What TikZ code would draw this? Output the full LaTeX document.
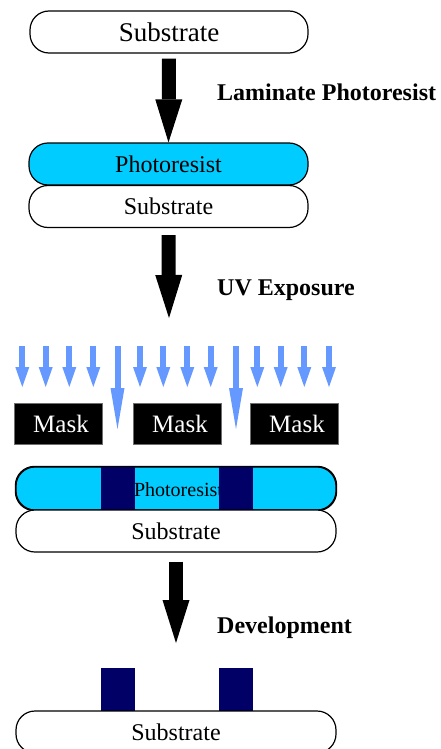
\documentclass[tikz,border=0pt]{standalone}
\usepackage{fontspec}
\setmainfont{Liberation Serif}
\usetikzlibrary{arrows.meta}
\definecolor{resist}{RGB}{0,204,255}
\definecolor{exposed}{RGB}{0,0,102}
\definecolor{uvblue}{RGB}{102,153,255}
\definecolor{maskedge}{RGB}{110,110,110}
\begin{document}
\begin{tikzpicture}[x=1pt,y=-1pt,
  layer/.style={draw=black, line width=1.2pt, rounded corners=19pt, minimum height=42pt,
    inner sep=0pt, font=\fontsize{24}{28}\selectfont},
  fatarrow/.style={line width=14pt, black, -{Triangle[length=43pt,width=27pt,line width=0pt]}},
  uvshort/.style={line width=6pt, uvblue, -{Triangle[length=20pt,width=14pt,line width=0pt]}},
  uvlong/.style={line width=6pt, uvblue, -{Triangle[length=41pt,width=14pt,line width=0pt]}},
  maskbox/.style={fill=black, draw=maskedge, line width=0.6pt, minimum width=88pt,
    minimum height=41pt, inner sep=0pt},
  steplabel/.style={anchor=base west, font=\fontsize{24}{28}\selectfont\bfseries, inner sep=0pt},
  block/.style={fill=exposed}
]
\useasboundingbox (0,0) rectangle (441,749);
\clip (0,0) rectangle (441,749);

% Step 1
\node[layer, minimum width=278pt, font=\fontsize{27}{30}\selectfont] (sub1) at (169,32) {Substrate};

% Step 2
\node[layer, fill=resist, minimum width=279pt] (pr2) at (168.5,164) {Photoresist};
\node[layer, fill=white, minimum width=279pt] (sub2) at (168.5,206.5) {Substrate};
\draw[fatarrow] ([yshift=-5pt]sub1.south) -- (pr2.north);
\node[steplabel] (lab1) at (217,101) {Laminate Photoresist};

% Step 3
\coordinate (uvtip) at (169,318);
\draw[fatarrow] ([yshift=-7pt]sub2.south) -- (uvtip);
\node[steplabel] (lab2) at (217,295) {UV Exposure};

\foreach \x in {22.3,45.7,69.3,93.3,140,163.3,187.3,210.7,257.3,280.7,304.3,329}
  \draw[uvshort] (\x,346) -- (\x,387);
\foreach \x in {117.5,236}
  \draw[uvlong] (\x,346) -- (\x,429);

\foreach \n/\x in {m1/58,m2/177,m3/294}
  \node[maskbox, label={[text=white, font=\fontsize{25}{28}\selectfont, xshift=3pt]center:Mask}] (\n) at (\x,423.5) {};

\node[layer, fill=resist, minimum width=320pt, minimum height=43pt] (pr3) at (176,488.5) {};
\node[font=\fontsize{20}{22}\selectfont, inner sep=0pt, anchor=base] (prtext) at (178.5,496) {Photoresist};
\fill[block] (101,467) rectangle (135,510);
\fill[block] (219,467) rectangle (253,510);
\draw[line width=1.2pt, rounded corners=19pt] (pr3.north west) rectangle (pr3.south east);
\node[layer, fill=white, minimum width=320pt] (sub3) at (176,531) {Substrate};

% Step 4
\coordinate (devtip) at (176,643);
\draw[fatarrow] ([yshift=-9pt]sub3.south) -- (devtip);
\node[steplabel] (lab3) at (217,633) {Development};

\fill[block] (101,668) rectangle (135,711);
\fill[block] (219,668) rectangle (253,711);
\node[layer, fill=white, minimum width=320pt] (sub4) at (176,732) {Substrate};
\end{tikzpicture}
\end{document}
